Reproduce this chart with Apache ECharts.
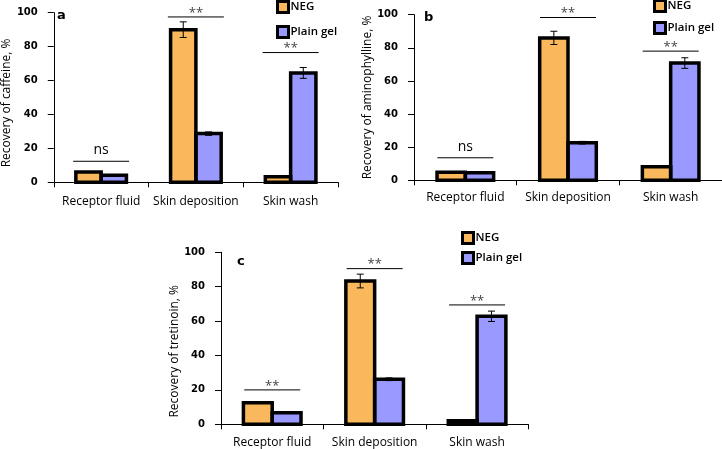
<!DOCTYPE html>
<html><head><meta charset="utf-8">
<script src="https://cdn.jsdelivr.net/npm/echarts@6/dist/echarts.min.js"></script>
<style>html,body{margin:0;padding:0;background:#fff}#c{width:722px;height:449px}</style>
</head><body><div id="c"></div>
<script>
// ---- data ----
const categories = ['Receptor fluid', 'Skin deposition', 'Skin wash'];
const seriesNames = ['NEG', 'Plain gel'];
const yTickMin = 0, yTickMax = 100, yTickStep = 20;

const caffeineNEG = [6, 90, 3.3];
const caffeineNEGErr = [0, 4.6, 0];
const caffeinePlain = [4.1, 28.7, 64.5];
const caffeinePlainErr = [0, 1, 3.2];
const caffeineSig = [[0, 12.4, 'ns'], [1, 97.5, '**'], [2, 76.5, '**']];

const aminoNEG = [4.8, 86, 8.2];
const aminoNEGErr = [0, 4, 0];
const aminoPlain = [4.5, 22.7, 70.8];
const aminoPlainErr = [0, 0.8, 3.2];
const aminoSig = [[0, 13.6, 'ns'], [1, 98.3, '**'], [2, 78, '**']];

const tretNEG = [12.6, 83.3, 2.1];
const tretNEGErr = [0, 4, 0];
const tretPlain = [6.7, 26.2, 62.8];
const tretPlainErr = [0, 0.8, 3];
const tretSig = [[0, 20, '**'], [1, 90.5, '**'], [2, 69.4, '**']];

// ---- layout / style ----
const COL_NEG = '#F9B85C', COL_PLAIN = '#9999FF';
const FONT = '"Open Sans", "Noto Sans", sans-serif';
const BOLD_FONT = '"DejaVu Sans", sans-serif';
const BORDER = 3.5;
const panels = [
  { label: 'a', yName: 'Recovery of caffeine, %', neg: caffeineNEG, negErr: caffeineNEGErr, plain: caffeinePlain, plainErr: caffeinePlainErr, sig: caffeineSig,
    grid: { left: 49, top: 12.7, width: 289, height: 169.6 }, bw: 25.3, namePad: [0, 11, 0, 0], labelMargin: 13,
    legend: { left: 276, top: 0, gap: 11 }, title: { left: 57, top: 9 } },
  { label: 'b', yName: 'Recovery of aminophylline, %', neg: aminoNEG, negErr: aminoNEGErr, plain: aminoPlain, plainErr: aminoPlainErr, sig: aminoSig,
    grid: { left: 414, top: 14.7, width: 308, height: 165.6 }, bw: 28.3, namePad: [0, 0, 0, 0], labelMargin: 11,
    legend: { left: 653, top: -1, gap: 8 }, title: { left: 424, top: 11 } },
  { label: 'c', yName: 'Recovery of tretinoin, %', neg: tretNEG, negErr: tretNEGErr, plain: tretPlain, plainErr: tretPlainErr, sig: tretSig,
    grid: { left: 221, top: 252.3, width: 307.3, height: 172 }, bw: 28.8, namePad: [0, 26, 0, 0], labelMargin: 12,
    legend: { left: 461, top: 231, gap: 6 }, title: { left: 237, top: 255 } }
];

// outline (border centred on the bar edge) + error bar
function outlineRender(side, bw) {
  return function (params, api) {
    const cat = api.value(0), v = api.value(1), e = api.value(2);
    const c = api.coord([cat, v]);
    const y0 = api.coord([cat, 0])[1];
    const x0 = c[0] + (side < 0 ? -bw : 0);
    const xm = c[0] + side * bw / 2;
    const kids = [{ type: 'rect', shape: { x: x0, y: c[1], width: bw, height: y0 - c[1] },
      style: { fill: 'none', stroke: '#000', lineWidth: BORDER } }];
    if (e) {
      const yt = api.coord([cat, v + e])[1], yb = api.coord([cat, v - e])[1];
      const st = { stroke: '#000', lineWidth: 1 };
      kids.push({ type: 'line', shape: { x1: xm, y1: yt, x2: xm, y2: yb }, style: st });
      kids.push({ type: 'line', shape: { x1: xm - 3.5, y1: yt, x2: xm + 3.5, y2: yt }, style: st });
      kids.push({ type: 'line', shape: { x1: xm - 3.5, y1: yb, x2: xm + 3.5, y2: yb }, style: st });
    }
    return { type: 'group', children: kids };
  };
}
function sigRender(sig) {
  return function (params, api) {
    const cat = api.value(0), lvl = api.value(1);
    const lab = sig[params.dataIndex][2];
    const c = api.coord([cat, lvl]);
    const isNs = lab === 'ns';
    return { type: 'group', children: [
      { type: 'line', shape: { x1: c[0] - 28, y1: c[1], x2: c[0] + 28, y2: c[1] }, style: { stroke: '#000', lineWidth: 1 } },
      { type: 'text', x: c[0], y: c[1] - 4,
        style: { text: lab, fill: isNs ? '#000' : '#444', font: (isNs ? '14px ' : '13px ') + FONT, align: 'center', verticalAlign: isNs ? 'bottom' : 'middle' } }
    ]};
  };
}

const option = { animation: false, grid: [], xAxis: [], yAxis: [], series: [], legend: [], title: [] };
panels.forEach((p, i) => {
  option.grid.push(Object.assign({ containLabel: false }, p.grid));
  option.xAxis.push({ type: 'category', gridIndex: i, data: categories,
    axisLine: { lineStyle: { color: '#000', width: 1 } },
    axisTick: { show: true, length: 5, lineStyle: { color: '#000' } },
    axisLabel: { interval: 0, color: '#000', fontFamily: FONT, fontSize: 12, margin: p.labelMargin } });
  option.yAxis.push({ type: 'value', gridIndex: i, min: yTickMin, max: yTickMax, interval: yTickStep,
    name: p.yName, nameLocation: 'middle', nameGap: 35,
    nameTextStyle: { color: '#000', fontFamily: FONT, fontSize: 12, padding: p.namePad },
    splitLine: { show: false },
    axisLine: { show: true, lineStyle: { color: '#000', width: 1 } },
    axisTick: { show: true, length: 6, lineStyle: { color: '#000' } },
    axisLabel: { color: '#000', fontFamily: BOLD_FONT, fontWeight: 'bold', fontSize: 10, margin: 16 } });
  option.series.push({ type: 'bar', name: seriesNames[0], xAxisIndex: i, yAxisIndex: i, data: p.neg, barWidth: p.bw, barGap: '0%',
    itemStyle: { color: COL_NEG }, z: 2 });
  option.series.push({ type: 'bar', name: seriesNames[1], xAxisIndex: i, yAxisIndex: i, data: p.plain, barWidth: p.bw, barGap: '0%',
    itemStyle: { color: COL_PLAIN }, z: 2 });
  option.series.push({ type: 'custom', xAxisIndex: i, yAxisIndex: i, renderItem: outlineRender(-1, p.bw), z: 5, silent: true,
    data: p.neg.map((v, k) => [k, v, p.negErr[k]]), encode: { x: 0, y: 1 }, clip: false });
  option.series.push({ type: 'custom', xAxisIndex: i, yAxisIndex: i, renderItem: outlineRender(1, p.bw), z: 5, silent: true,
    data: p.plain.map((v, k) => [k, v, p.plainErr[k]]), encode: { x: 0, y: 1 }, clip: false });
  option.series.push({ type: 'custom', xAxisIndex: i, yAxisIndex: i, renderItem: sigRender(p.sig), z: 5, silent: true,
    data: p.sig.map(s => [s[0], s[1]]), encode: { x: 0, y: 1 }, clip: false });
  option.legend.push({ orient: 'vertical', left: p.legend.left, top: p.legend.top, itemGap: p.legend.gap,
    itemWidth: 11, itemHeight: 11, icon: 'rect', data: seriesNames, selectedMode: false, padding: 0,
    itemStyle: { borderColor: '#000', borderWidth: 3 },
    textStyle: { color: '#000', fontFamily: FONT, fontWeight: 600, fontSize: 11.5, lineHeight: 14, padding: [0, 0, 0, -3] } });
  option.title.push({ text: p.label, left: p.title.left, top: p.title.top, padding: 0,
    textStyle: { color: '#000', fontFamily: BOLD_FONT, fontWeight: 'bold', fontSize: 13 } });
});

const chart = echarts.init(document.getElementById('c'), null, { renderer: 'canvas' });
chart.setOption(option);
</script>
</body></html>
